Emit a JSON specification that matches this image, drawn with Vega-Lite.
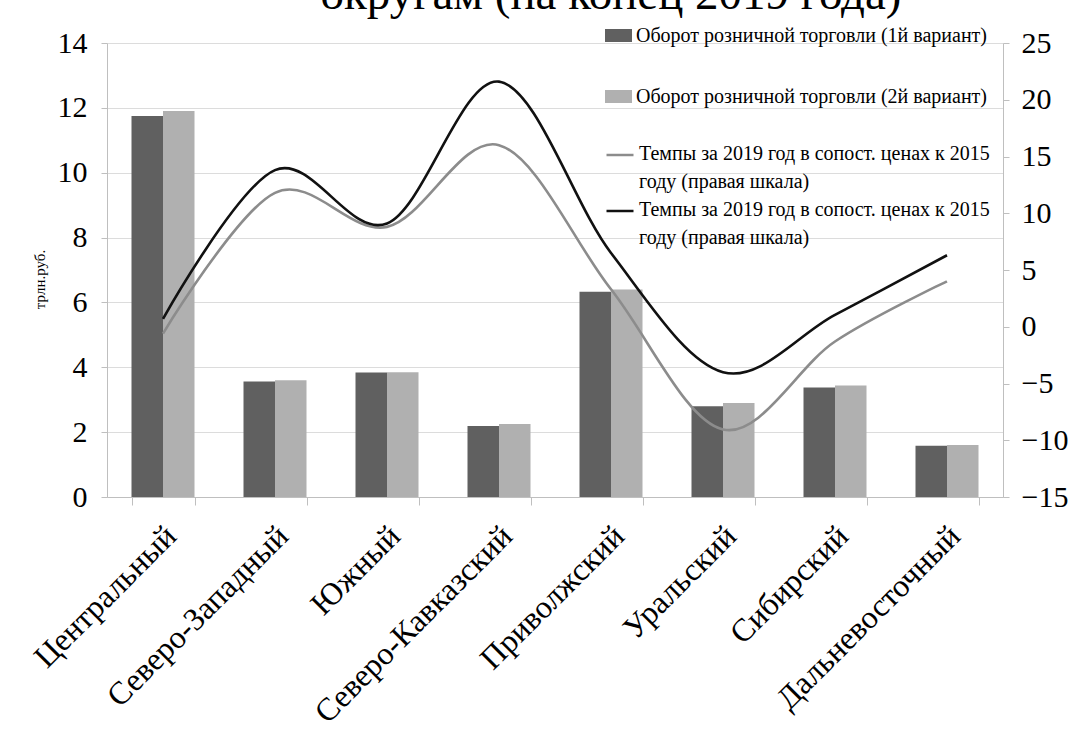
{
  "$schema": "https://vega.github.io/schema/vega-lite/v6.json",
  "width": 896,
  "height": 454,
  "autosize": {"type": "none"},
  "padding": {"left": 107, "top": 43, "right": 77, "bottom": 243},
  "background": "white",
  "title": {
    "text": "округам (на конец 2019 года)",
    "font": "Liberation Serif",
    "fontSize": 47,
    "fontWeight": "normal",
    "color": "#000000",
    "anchor": "middle",
    "frame": "group",
    "dx": 56,
    "offset": 3
  },
  "config": {
    "view": {"stroke": null},
    "font": "Liberation Serif",
    "axis": {
      "labelFont": "Liberation Serif",
      "labelColor": "#000000",
      "titleFont": "Liberation Serif",
      "titleColor": "#000000",
      "titleFontWeight": "normal",
      "domainColor": "#bfbfbf",
      "tickColor": "#bfbfbf",
      "gridColor": "#dcdcdc"
    },
    "legend": {
      "labelFont": "Liberation Serif",
      "labelColor": "#000000",
      "labelFontSize": 20,
      "labelLimit": 600
    }
  },
  "datasets": {
    "bars": [
      {"region": "Центральный", "series": "Оборот розничной торговли (1й вариант)", "value": 11.75},
      {"region": "Центральный", "series": "Оборот розничной торговли (2й вариант)", "value": 11.9},
      {"region": "Северо-Западный", "series": "Оборот розничной торговли (1й вариант)", "value": 3.56},
      {"region": "Северо-Западный", "series": "Оборот розничной торговли (2й вариант)", "value": 3.6},
      {"region": "Южный", "series": "Оборот розничной торговли (1й вариант)", "value": 3.84},
      {"region": "Южный", "series": "Оборот розничной торговли (2й вариант)", "value": 3.85},
      {"region": "Северо-Кавказский", "series": "Оборот розничной торговли (1й вариант)", "value": 2.19},
      {"region": "Северо-Кавказский", "series": "Оборот розничной торговли (2й вариант)", "value": 2.25},
      {"region": "Приволжский", "series": "Оборот розничной торговли (1й вариант)", "value": 6.33},
      {"region": "Приволжский", "series": "Оборот розничной торговли (2й вариант)", "value": 6.4},
      {"region": "Уральский", "series": "Оборот розничной торговли (1й вариант)", "value": 2.8},
      {"region": "Уральский", "series": "Оборот розничной торговли (2й вариант)", "value": 2.9},
      {"region": "Сибирский", "series": "Оборот розничной торговли (1й вариант)", "value": 3.38},
      {"region": "Сибирский", "series": "Оборот розничной торговли (2й вариант)", "value": 3.44},
      {"region": "Дальневосточный", "series": "Оборот розничной торговли (1й вариант)", "value": 1.58},
      {"region": "Дальневосточный", "series": "Оборот розничной торговли (2й вариант)", "value": 1.6}
    ],
    "lines": [
      {"region": "Центральный", "series": "g", "rate": -0.6},
      {"region": "Северо-Западный", "series": "g", "rate": 11.8},
      {"region": "Южный", "series": "g", "rate": 8.8},
      {"region": "Северо-Кавказский", "series": "g", "rate": 16.0},
      {"region": "Приволжский", "series": "g", "rate": 3.3},
      {"region": "Уральский", "series": "g", "rate": -9.05},
      {"region": "Сибирский", "series": "g", "rate": -1.3},
      {"region": "Дальневосточный", "series": "g", "rate": 4.0},
      {"region": "Центральный", "series": "k", "rate": 0.7},
      {"region": "Северо-Западный", "series": "k", "rate": 13.8},
      {"region": "Южный", "series": "k", "rate": 9.1},
      {"region": "Северо-Кавказский", "series": "k", "rate": 21.6},
      {"region": "Приволжский", "series": "k", "rate": 6.5},
      {"region": "Уральский", "series": "k", "rate": -4.0},
      {"region": "Сибирский", "series": "k", "rate": 1.05},
      {"region": "Дальневосточный", "series": "k", "rate": 6.3}
    ]
  },
  "encoding": {
    "x": {
      "field": "region",
      "type": "nominal",
      "sort": null,
      "scale": {"paddingInner": 0.4375, "paddingOuter": 0.21875},
      "axis": {
        "title": null,
        "labelAngle": -45,
        "labelFontSize": 32,
        "labelLimit": 400,
        "tickBand": "extent",
        "tickSize": 8,
        "labelPadding": 15,
        "labelOffset": -3,
        "domainColor": "#bfbfbf"
      }
    }
  },
  "layer": [
    {
      "data": {"name": "bars"},
      "mark": {"type": "bar"},
      "encoding": {
        "xOffset": {"field": "series", "type": "nominal", "scale": {"paddingInner": 0, "paddingOuter": 0}},
        "y": {
          "field": "value",
          "type": "quantitative",
          "scale": {"domain": [0, 14], "nice": false},
          "axis": {
            "title": "трлн.руб.",
            "titleFontSize": 15,
            "titlePadding": 10,
            "titleY": 236,
            "values": [0, 2, 4, 6, 8, 10, 12, 14],
            "labelFontSize": 30,
            "tickSize": 6,
            "labelPadding": 14,
            "grid": true
          }
        },
        "fill": {
          "field": "series",
          "type": "nominal",
          "scale": {"range": ["#606060", "#b0b0b0"]},
          "legend": {
            "title": null,
            "orient": "none",
            "legendX": 498,
            "legendY": -21,
            "symbolType": "M-1,-0.48H1V0.48H-1Z",
            "symbolSize": 729,
            "symbolStrokeWidth": 0,
            "rowPadding": 37,
            "labelOffset": 4
          }
        }
      }
    },
    {
      "data": {"name": "lines"},
      "mark": {"type": "line", "interpolate": "cardinal", "tension": 0, "strokeWidth": 2.6},
      "encoding": {
        "y": {
          "field": "rate",
          "type": "quantitative",
          "scale": {"domain": [-15, 25], "nice": false},
          "axis": {
            "orient": "right",
            "title": null,
            "values": [-15, -10, -5, 0, 5, 10, 15, 20, 25],
            "labelFontSize": 30,
            "tickSize": 6,
            "labelPadding": 12,
            "grid": false
          }
        },
        "stroke": {
          "field": "series",
          "type": "nominal",
          "scale": {"domain": ["g", "k"], "range": ["#8c8c8c", "#111111"]},
          "legend": {
            "title": null,
            "orient": "none",
            "legendX": 498,
            "legendY": 97,
            "symbolSize": 729,
            "symbolStrokeWidth": 2.5,
            "rowPadding": 4,
            "labelOffset": 4,
            "labelBaseline": "top",
            "labelExpr": "['Темпы за 2019 год в сопост. ценах к 2015', 'году (правая шкала)']",
            "encode": {
              "labels": {"update": {"dy": {"value": -11}, "lineHeight": {"value": 28}}}
            }
          }
        }
      }
    }
  ],
  "resolve": {"scale": {"y": "independent"}}
}
